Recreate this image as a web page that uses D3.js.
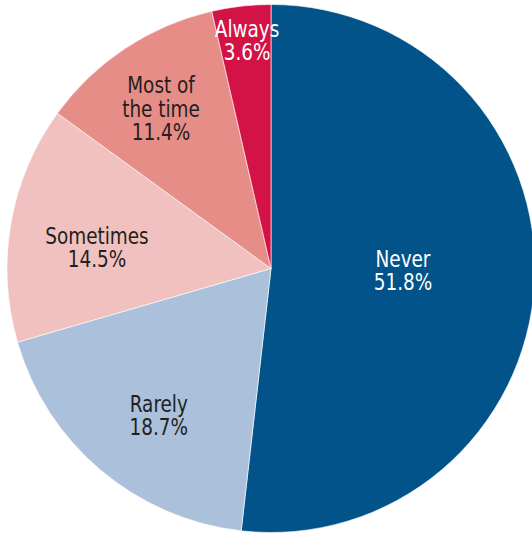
<!DOCTYPE html>
<html>
<head>
<meta charset="utf-8">
<script src="https://cdn.jsdelivr.net/npm/d3@7"></script>
<style>
  html, body { margin: 0; padding: 0; background: #fff; }
  svg text { font-family: "Liberation Sans Narrow", "DejaVu Sans Condensed", "Roboto Condensed", "Liberation Sans", sans-serif; font-stretch: condensed; }
</style>
</head>
<body>
<svg id="chart" width="532" height="533"></svg>
<script>
// ── Data ──
const categories = ["Never", "Rarely", "Sometimes", "Most of the time", "Always"];
const shares = [51.8, 18.7, 14.5, 11.4, 3.6];
const labelLines = [["Never"], ["Rarely"], ["Sometimes"], ["Most of", "the time"], ["Always"]];

// ── Styling ──
const colors = ["#02538a", "#abc0da", "#f0c1be", "#e78d88", "#d31245"];
const textColors = ["#ffffff", "#231f20", "#231f20", "#231f20", "#ffffff"];
// label placement: radius as fraction of R, angle nudge (degrees) from slice mid-angle
const labelRadius = [0.5, 0.699, 0.664, 0.736, 0.87];
const labelNudge = [-2.6, -2.7, -2.9, -1.0, 0.5];

const cx = 271, cy = 268.5, R = 264;
const fontPx = 23, lineH = 23.4, capH = 0.729 * 23, squeeze = 0.89;

const svg = d3.select("#chart");
const g = svg.append("g").attr("transform", `translate(${cx},${cy})`);

const pie = d3.pie().value(d => d.v).sort(null);
const arcs = pie(categories.map((c, i) => ({ c, v: shares[i], i })));
const arc = d3.arc().innerRadius(0).outerRadius(R);

g.selectAll("path.slice")
  .data(arcs)
  .join("path").attr("class", "slice")
  .attr("d", arc)
  .attr("fill", d => colors[d.data.i])
  .attr("stroke", "#fff")
  .attr("stroke-width", 0.6);

// labels
arcs.forEach(d => {
  const i = d.data.i;
  const a = (d.startAngle + d.endAngle) / 2 + labelNudge[i] * Math.PI / 180;
  const r = R * labelRadius[i];
  const x = r * Math.sin(a), y = -r * Math.cos(a);
  const lines = [...labelLines[i], d3.format(".1f")(shares[i]) + "%"];
  const t = g.append("g")
    .attr("transform", `translate(${x},${y}) scale(${squeeze},1)`)
    .append("text")
    .attr("text-anchor", "middle")
    .attr("fill", textColors[i])
    .style("font-size", fontPx + "px");
  lines.forEach((ln, k) => {
    t.append("tspan")
      .attr("x", 0)
      .attr("y", (k - (lines.length - 1) / 2) * lineH + capH / 2)
      .text(ln);
  });
});
</script>
</body>
</html>
